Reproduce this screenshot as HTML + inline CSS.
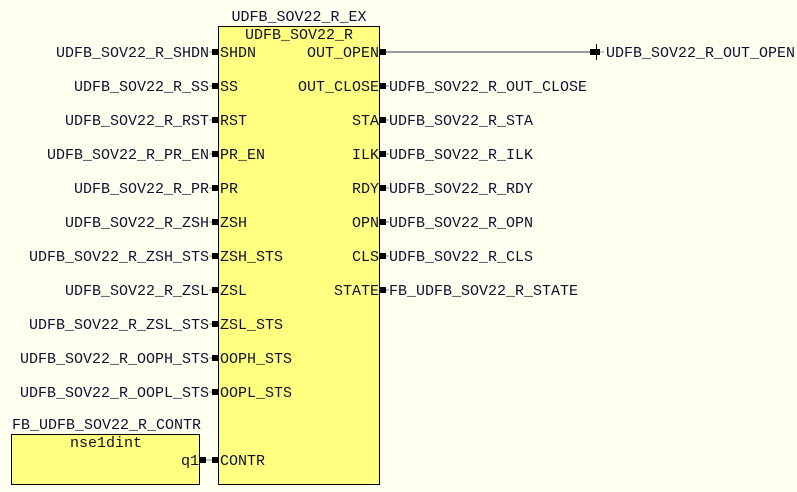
<!DOCTYPE html>
<html><head><style>
html,body{margin:0;padding:0;background:#fffff0;}
svg{display:block;}
text{font-family:"Liberation Mono","Courier New",monospace;font-size:15px;fill:#101030;}
</style></head><body>
<svg width="797" height="492" viewBox="0 0 797 492" xmlns="http://www.w3.org/2000/svg">
<rect x="0" y="0" width="797" height="492" fill="#fffff0"/>
<rect x="218.5" y="26.5" width="161" height="458" fill="#ffff80" stroke="#000" stroke-width="1"/>
<text x="299" y="21" text-anchor="middle">UDFB_SOV22_R_EX</text>
<text x="299" y="39" text-anchor="middle">UDFB_SOV22_R</text>
<rect x="11.5" y="434.5" width="188" height="50" fill="#ffff80" stroke="#000" stroke-width="1"/>
<text x="12" y="429">FB_UDFB_SOV22_R_CONTR</text>
<text x="106" y="447" text-anchor="middle">nse1dint</text>
<text x="199" y="465" text-anchor="end">q1</text>
<rect x="200" y="457" width="6" height="6" fill="#000"/>
<line x1="206" y1="460" x2="212" y2="460" stroke="#888" stroke-width="1"/>
<rect x="212" y="457" width="6" height="6" fill="#000"/>
<text x="220" y="465">CONTR</text>
<g>
<line x1="386" y1="52" x2="592" y2="52" stroke="#777" stroke-width="1.5"/>
<rect x="590" y="49" width="10" height="6" fill="#000"/>
<line x1="596.5" y1="44" x2="596.5" y2="60" stroke="#000" stroke-width="1"/>
<line x1="600" y1="52" x2="604" y2="52" stroke="#888"/>
<text x="606" y="57">UDFB_SOV22_R_OUT_OPEN</text>
</g>
<g id="left">
<rect x="212" y="49" width="6" height="6"/><line x1="209" y1="52" x2="212" y2="52" stroke="#888"/><text x="209" y="57" text-anchor="end">UDFB_SOV22_R_SHDN</text><text x="220" y="57">SHDN</text>
<rect x="212" y="83" width="6" height="6"/><line x1="209" y1="86" x2="212" y2="86" stroke="#888"/><text x="209" y="91" text-anchor="end">UDFB_SOV22_R_SS</text><text x="220" y="91">SS</text>
<rect x="212" y="117" width="6" height="6"/><line x1="209" y1="120" x2="212" y2="120" stroke="#888"/><text x="209" y="125" text-anchor="end">UDFB_SOV22_R_RST</text><text x="220" y="125">RST</text>
<rect x="212" y="151" width="6" height="6"/><line x1="209" y1="154" x2="212" y2="154" stroke="#888"/><text x="209" y="159" text-anchor="end">UDFB_SOV22_R_PR_EN</text><text x="220" y="159">PR_EN</text>
<rect x="212" y="185" width="6" height="6"/><line x1="209" y1="188" x2="212" y2="188" stroke="#888"/><text x="209" y="193" text-anchor="end">UDFB_SOV22_R_PR</text><text x="220" y="193">PR</text>
<rect x="212" y="219" width="6" height="6"/><line x1="209" y1="222" x2="212" y2="222" stroke="#888"/><text x="209" y="227" text-anchor="end">UDFB_SOV22_R_ZSH</text><text x="220" y="227">ZSH</text>
<rect x="212" y="253" width="6" height="6"/><line x1="209" y1="256" x2="212" y2="256" stroke="#888"/><text x="209" y="261" text-anchor="end">UDFB_SOV22_R_ZSH_STS</text><text x="220" y="261">ZSH_STS</text>
<rect x="212" y="287" width="6" height="6"/><line x1="209" y1="290" x2="212" y2="290" stroke="#888"/><text x="209" y="295" text-anchor="end">UDFB_SOV22_R_ZSL</text><text x="220" y="295">ZSL</text>
<rect x="212" y="321" width="6" height="6"/><line x1="209" y1="324" x2="212" y2="324" stroke="#888"/><text x="209" y="329" text-anchor="end">UDFB_SOV22_R_ZSL_STS</text><text x="220" y="329">ZSL_STS</text>
<rect x="212" y="355" width="6" height="6"/><line x1="209" y1="358" x2="212" y2="358" stroke="#888"/><text x="209" y="363" text-anchor="end">UDFB_SOV22_R_OOPH_STS</text><text x="220" y="363">OOPH_STS</text>
<rect x="212" y="389" width="6" height="6"/><line x1="209" y1="392" x2="212" y2="392" stroke="#888"/><text x="209" y="397" text-anchor="end">UDFB_SOV22_R_OOPL_STS</text><text x="220" y="397">OOPL_STS</text>
</g>
<g id="right">
<rect x="380" y="49" width="6" height="6"/><text x="379" y="57" text-anchor="end">OUT_OPEN</text>
<rect x="380" y="83" width="6" height="6"/><line x1="386" y1="86" x2="389" y2="86" stroke="#888"/><text x="379" y="91" text-anchor="end">OUT_CLOSE</text><text x="389" y="91">UDFB_SOV22_R_OUT_CLOSE</text>
<rect x="380" y="117" width="6" height="6"/><line x1="386" y1="120" x2="389" y2="120" stroke="#888"/><text x="379" y="125" text-anchor="end">STA</text><text x="389" y="125">UDFB_SOV22_R_STA</text>
<rect x="380" y="151" width="6" height="6"/><line x1="386" y1="154" x2="389" y2="154" stroke="#888"/><text x="379" y="159" text-anchor="end">ILK</text><text x="389" y="159">UDFB_SOV22_R_ILK</text>
<rect x="380" y="185" width="6" height="6"/><line x1="386" y1="188" x2="389" y2="188" stroke="#888"/><text x="379" y="193" text-anchor="end">RDY</text><text x="389" y="193">UDFB_SOV22_R_RDY</text>
<rect x="380" y="219" width="6" height="6"/><line x1="386" y1="222" x2="389" y2="222" stroke="#888"/><text x="379" y="227" text-anchor="end">OPN</text><text x="389" y="227">UDFB_SOV22_R_OPN</text>
<rect x="380" y="253" width="6" height="6"/><line x1="386" y1="256" x2="389" y2="256" stroke="#888"/><text x="379" y="261" text-anchor="end">CLS</text><text x="389" y="261">UDFB_SOV22_R_CLS</text>
<rect x="380" y="287" width="6" height="6"/><line x1="386" y1="290" x2="389" y2="290" stroke="#888"/><text x="379" y="295" text-anchor="end">STATE</text><text x="389" y="295">FB_UDFB_SOV22_R_STATE</text>
</g>
</svg>
</body></html>
